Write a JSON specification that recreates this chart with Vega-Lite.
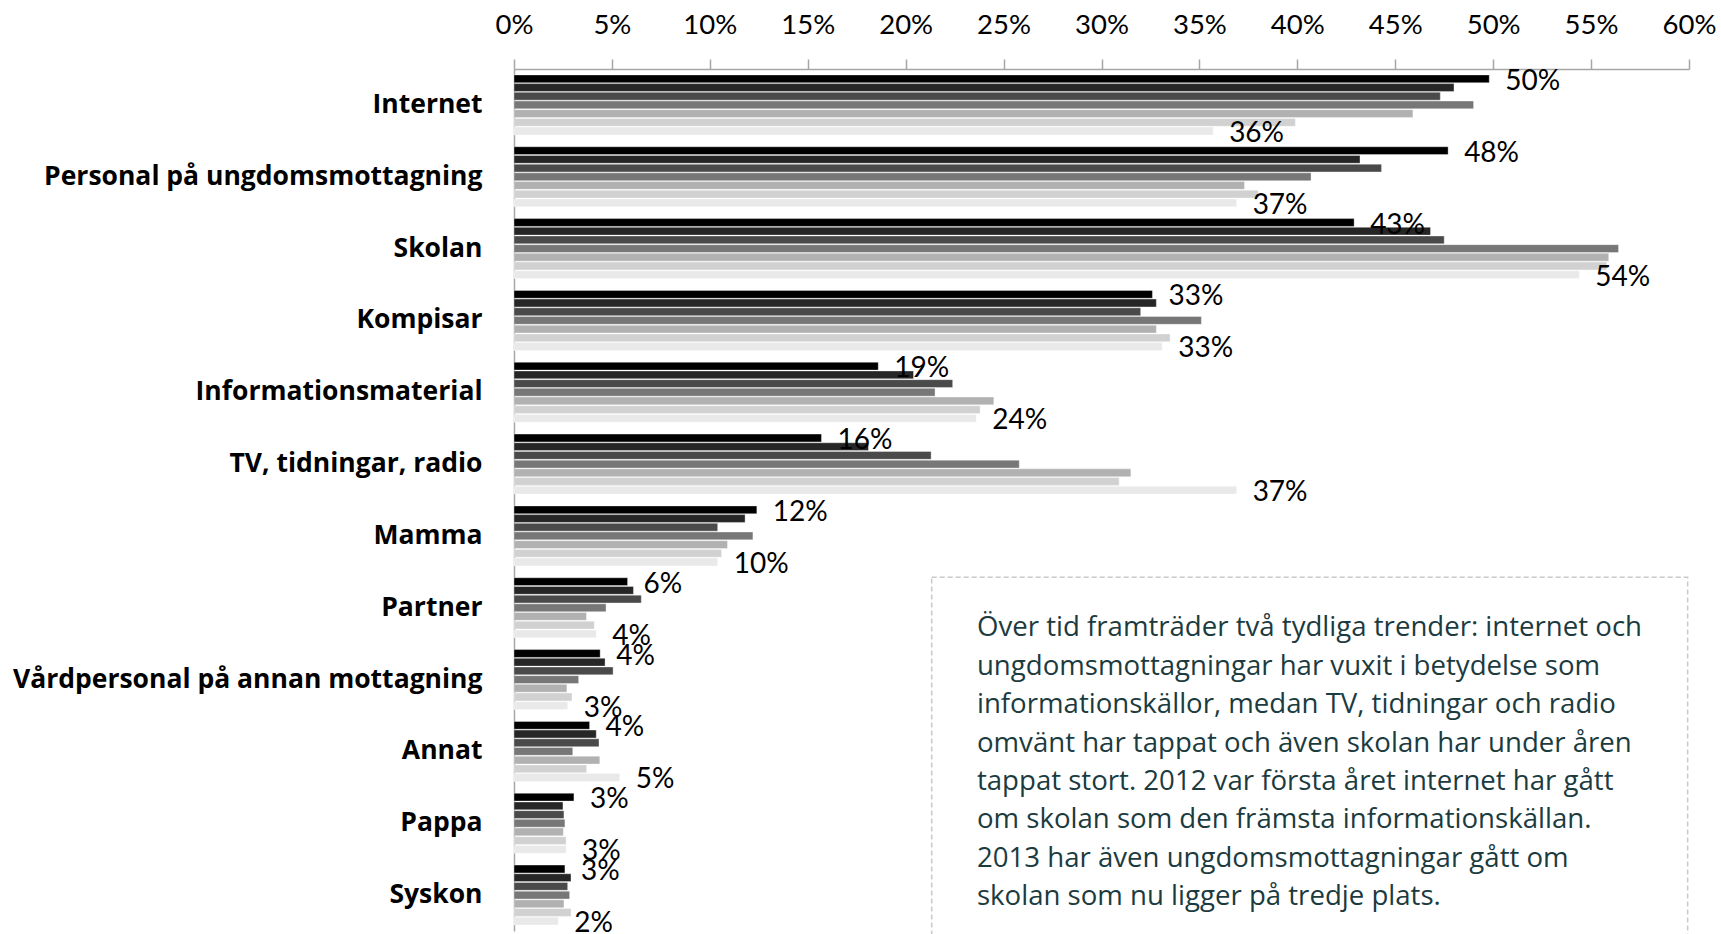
{
  "$schema": "https://vega.github.io/schema/vega-lite/v6.json",
  "autosize": "none",
  "width": 1175,
  "height": 862,
  "padding": {"left": 514, "top": 69, "right": 32, "bottom": 3},
  "background": "white",
  "config": {"view": {"stroke": null}, "font": "Lato"},
  "datasets": {
    "andelar": [
      {"kategori": "Internet", "ar": "2013", "andel": 0.498},
      {"kategori": "Internet", "ar": "2012", "andel": 0.480},
      {"kategori": "Internet", "ar": "2011", "andel": 0.473},
      {"kategori": "Internet", "ar": "2010", "andel": 0.490},
      {"kategori": "Internet", "ar": "2009", "andel": 0.459},
      {"kategori": "Internet", "ar": "2008", "andel": 0.399},
      {"kategori": "Internet", "ar": "2007", "andel": 0.357},
      {"kategori": "Personal på ungdomsmottagning", "ar": "2013", "andel": 0.477},
      {"kategori": "Personal på ungdomsmottagning", "ar": "2012", "andel": 0.432},
      {"kategori": "Personal på ungdomsmottagning", "ar": "2011", "andel": 0.443},
      {"kategori": "Personal på ungdomsmottagning", "ar": "2010", "andel": 0.407},
      {"kategori": "Personal på ungdomsmottagning", "ar": "2009", "andel": 0.373},
      {"kategori": "Personal på ungdomsmottagning", "ar": "2008", "andel": 0.380},
      {"kategori": "Personal på ungdomsmottagning", "ar": "2007", "andel": 0.369},
      {"kategori": "Skolan", "ar": "2013", "andel": 0.429},
      {"kategori": "Skolan", "ar": "2012", "andel": 0.468},
      {"kategori": "Skolan", "ar": "2011", "andel": 0.475},
      {"kategori": "Skolan", "ar": "2010", "andel": 0.564},
      {"kategori": "Skolan", "ar": "2009", "andel": 0.559},
      {"kategori": "Skolan", "ar": "2008", "andel": 0.558},
      {"kategori": "Skolan", "ar": "2007", "andel": 0.544},
      {"kategori": "Kompisar", "ar": "2013", "andel": 0.326},
      {"kategori": "Kompisar", "ar": "2012", "andel": 0.328},
      {"kategori": "Kompisar", "ar": "2011", "andel": 0.320},
      {"kategori": "Kompisar", "ar": "2010", "andel": 0.351},
      {"kategori": "Kompisar", "ar": "2009", "andel": 0.328},
      {"kategori": "Kompisar", "ar": "2008", "andel": 0.335},
      {"kategori": "Kompisar", "ar": "2007", "andel": 0.331},
      {"kategori": "Informationsmaterial", "ar": "2013", "andel": 0.186},
      {"kategori": "Informationsmaterial", "ar": "2012", "andel": 0.204},
      {"kategori": "Informationsmaterial", "ar": "2011", "andel": 0.224},
      {"kategori": "Informationsmaterial", "ar": "2010", "andel": 0.215},
      {"kategori": "Informationsmaterial", "ar": "2009", "andel": 0.245},
      {"kategori": "Informationsmaterial", "ar": "2008", "andel": 0.238},
      {"kategori": "Informationsmaterial", "ar": "2007", "andel": 0.236},
      {"kategori": "TV, tidningar, radio", "ar": "2013", "andel": 0.157},
      {"kategori": "TV, tidningar, radio", "ar": "2012", "andel": 0.181},
      {"kategori": "TV, tidningar, radio", "ar": "2011", "andel": 0.213},
      {"kategori": "TV, tidningar, radio", "ar": "2010", "andel": 0.258},
      {"kategori": "TV, tidningar, radio", "ar": "2009", "andel": 0.315},
      {"kategori": "TV, tidningar, radio", "ar": "2008", "andel": 0.309},
      {"kategori": "TV, tidningar, radio", "ar": "2007", "andel": 0.369},
      {"kategori": "Mamma", "ar": "2013", "andel": 0.124},
      {"kategori": "Mamma", "ar": "2012", "andel": 0.118},
      {"kategori": "Mamma", "ar": "2011", "andel": 0.104},
      {"kategori": "Mamma", "ar": "2010", "andel": 0.122},
      {"kategori": "Mamma", "ar": "2009", "andel": 0.109},
      {"kategori": "Mamma", "ar": "2008", "andel": 0.106},
      {"kategori": "Mamma", "ar": "2007", "andel": 0.104},
      {"kategori": "Partner", "ar": "2013", "andel": 0.058},
      {"kategori": "Partner", "ar": "2012", "andel": 0.061},
      {"kategori": "Partner", "ar": "2011", "andel": 0.065},
      {"kategori": "Partner", "ar": "2010", "andel": 0.047},
      {"kategori": "Partner", "ar": "2009", "andel": 0.037},
      {"kategori": "Partner", "ar": "2008", "andel": 0.041},
      {"kategori": "Partner", "ar": "2007", "andel": 0.042},
      {"kategori": "Vårdpersonal på annan mottagning", "ar": "2013", "andel": 0.044},
      {"kategori": "Vårdpersonal på annan mottagning", "ar": "2012", "andel": 0.0465},
      {"kategori": "Vårdpersonal på annan mottagning", "ar": "2011", "andel": 0.0506},
      {"kategori": "Vårdpersonal på annan mottagning", "ar": "2010", "andel": 0.033},
      {"kategori": "Vårdpersonal på annan mottagning", "ar": "2009", "andel": 0.027},
      {"kategori": "Vårdpersonal på annan mottagning", "ar": "2008", "andel": 0.0296},
      {"kategori": "Vårdpersonal på annan mottagning", "ar": "2007", "andel": 0.0274},
      {"kategori": "Annat", "ar": "2013", "andel": 0.0386},
      {"kategori": "Annat", "ar": "2012", "andel": 0.042},
      {"kategori": "Annat", "ar": "2011", "andel": 0.0434},
      {"kategori": "Annat", "ar": "2010", "andel": 0.030},
      {"kategori": "Annat", "ar": "2009", "andel": 0.0438},
      {"kategori": "Annat", "ar": "2008", "andel": 0.0371},
      {"kategori": "Annat", "ar": "2007", "andel": 0.054},
      {"kategori": "Pappa", "ar": "2013", "andel": 0.0306},
      {"kategori": "Pappa", "ar": "2012", "andel": 0.025},
      {"kategori": "Pappa", "ar": "2011", "andel": 0.0255},
      {"kategori": "Pappa", "ar": "2010", "andel": 0.026},
      {"kategori": "Pappa", "ar": "2009", "andel": 0.0252},
      {"kategori": "Pappa", "ar": "2008", "andel": 0.0266},
      {"kategori": "Pappa", "ar": "2007", "andel": 0.0266},
      {"kategori": "Syskon", "ar": "2013", "andel": 0.026},
      {"kategori": "Syskon", "ar": "2012", "andel": 0.0291},
      {"kategori": "Syskon", "ar": "2011", "andel": 0.0274},
      {"kategori": "Syskon", "ar": "2010", "andel": 0.0284},
      {"kategori": "Syskon", "ar": "2009", "andel": 0.0255},
      {"kategori": "Syskon", "ar": "2008", "andel": 0.0291},
      {"kategori": "Syskon", "ar": "2007", "andel": 0.0226}
    ],
    "ruta": [
      {"fran": 0.2133, "till": 0.5993, "topp": 7.077, "botten": 12.3}
    ],
    "kommentar": [
      {"x": 0.2364, "y": 7.9, "rader": [
        "Över tid framträder två tydliga trender: internet och",
        "ungdomsmottagningar har vuxit i betydelse som",
        "informationskällor, medan TV, tidningar och radio",
        "omvänt har tappat och även skolan har under åren",
        "tappat stort. 2012 var första året internet har gått",
        "om skolan som den främsta informationskällan.",
        "2013 har även ungdomsmottagningar gått om",
        "skolan som nu ligger på tredje plats."
      ]}
    ]
  },
  "resolve": {"scale": {"y": "independent"}},
  "layer": [
    {
      "data": {"name": "andelar"},
      "layer": [
        {
          "mark": {"type": "bar", "stroke": "#ffffff", "strokeWidth": 0.6, "strokeOpacity": 0.6},
          "encoding": {
            "y": {
              "field": "kategori", "type": "nominal", "sort": null,
              "scale": {"paddingInner": 0.165, "paddingOuter": 0.0825},
              "axis": {
                "title": null, "ticks": false, "labelPadding": 32,
                "labelFont": "Open Sans", "labelFontSize": 26.5, "labelFontWeight": "bold",
                "labelColor": "#000000", "labelLimit": 700,
                "domainColor": "#a6a6a6", "domainWidth": 1.5, "grid": false
              }
            },
            "yOffset": {
              "field": "ar", "type": "nominal",
              "sort": ["2013", "2012", "2011", "2010", "2009", "2008", "2007"],
              "scale": {"paddingInner": 0.1, "paddingOuter": 0}
            },
            "x": {
              "field": "andel", "type": "quantitative",
              "scale": {"domain": [0, 0.6], "nice": false},
              "axis": {
                "orient": "top", "title": null, "format": ".0%",
                "values": [0, 0.05, 0.1, 0.15, 0.2, 0.25, 0.3, 0.35, 0.4, 0.45, 0.5, 0.55, 0.6],
                "grid": false, "tickSize": 10, "tickColor": "#a6a6a6", "tickWidth": 1.5,
                "domainColor": "#a6a6a6", "domainWidth": 1.5,
                "labelFont": "Lato", "labelFontSize": 27.5, "labelColor": "#000000",
                "labelPadding": 20, "labelFlush": false
              }
            },
            "color": {
              "field": "ar", "type": "nominal",
              "sort": ["2013", "2012", "2011", "2010", "2009", "2008", "2007"],
              "scale": {"range": ["#000000", "#262626", "#4a4a4a", "#777777", "#b1b1b1", "#d1d1d1", "#e9e9e9"]},
              "legend": null
            }
          }
        },
        {
          "transform": [{"filter": "datum.ar == '2013' || datum.ar == '2007'"}],
          "mark": {"type": "text", "align": "left", "baseline": "middle", "dx": 16, "dy": 3, "font": "Lato", "fontSize": 28, "color": "#000000"},
          "encoding": {
            "y": {"field": "kategori", "type": "nominal", "sort": null},
            "yOffset": {
              "field": "ar", "type": "nominal",
              "sort": ["2013", "2012", "2011", "2010", "2009", "2008", "2007"]
            },
            "x": {"field": "andel", "type": "quantitative"},
            "text": {"field": "andel", "type": "quantitative", "format": ".0%"}
          }
        }
      ]
    },
    {
      "data": {"name": "ruta"},
      "mark": {"type": "rect", "fill": "#ffffff", "stroke": "#c9c9c9", "strokeWidth": 1.5, "strokeDash": [5, 3]},
      "encoding": {
        "x": {"field": "fran", "type": "quantitative"},
        "x2": {"field": "till"},
        "y": {"field": "topp", "type": "quantitative", "scale": {"domain": [0, 12], "reverse": true, "nice": false, "zero": false}, "axis": null},
        "y2": {"field": "botten"}
      }
    },
    {
      "data": {"name": "kommentar"},
      "mark": {"type": "text", "align": "left", "baseline": "alphabetic", "font": "Open Sans", "fontSize": 27.6, "lineHeight": 38.4, "color": "#1b3b3f"},
      "encoding": {
        "x": {"field": "x", "type": "quantitative"},
        "y": {"field": "y", "type": "quantitative", "scale": {"domain": [0, 12], "reverse": true, "nice": false, "zero": false}, "axis": null},
        "text": {"field": "rader", "type": "nominal"}
      }
    }
  ]
}
